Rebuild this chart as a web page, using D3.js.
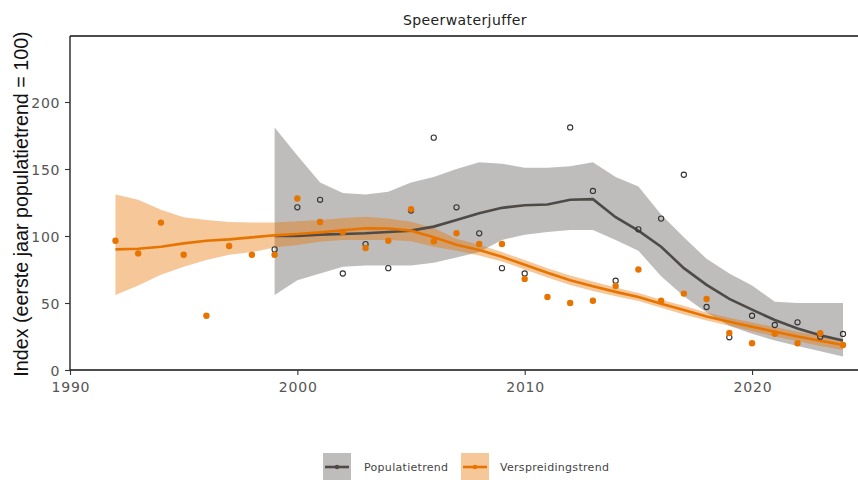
<!DOCTYPE html>
<html><head><meta charset="utf-8">
<script src="https://cdn.jsdelivr.net/npm/d3@7"></script>
<style>body{margin:0;background:#fff}svg{display:block}</style>
</head><body>
<script>
const title = "Speerwaterjuffer";
const yLabel = "Index (eerste jaar populatietrend = 100)";
const xTicks = [1990, 2000, 2010, 2020];
const yTicks = [0, 50, 100, 150, 200];

// Verspreidingstrend (orange)
const versYears = d3.range(1992, 2025);
const versPoints = [96.5,87,110,86,40.5,92.5,86,86,128,110.5,103,91,96.5,120,96,102,94,94,68,54.5,50,51.7,62.7,75,51.7,57,53,27.6,20,27,20,27.4,18.7];
const versTrend = [90,90.5,92,94.5,96.5,97.5,99,100.5,101.5,102.7,104.3,105.8,105.6,104,99,93.5,89.5,84.5,78.5,72.5,67,62.5,58.3,54.5,49.5,44.8,40,36,32.3,28.6,25,21.9,18.7];
const versUpper = [131,127,119.5,114,112,110.5,110,110,111,112,113.5,114.4,113,110.7,106,98,93.5,88,82,76,70.5,66,61.5,57.5,52.5,48,43,39,35.5,32,28.5,25.5,22.5];
const versLower = [56,63,71,77,82,86,88,91.5,93.3,95.8,97,97,97,96,92,89,85.5,81,75,69,63.5,59,55,51.5,46.5,41.5,37,33,29,25,21.5,18,15];

// Populatietrend (grey)
const popYears = d3.range(1999, 2025);
const popPoints = [90,121.4,127,72,94,76,119,173.4,121.4,102,76,72,252,181,133.6,66.6,105,113,145.7,47,24.4,40.5,33.6,35.6,24.9,26.9];
const popTrend = [100,100,101,101.5,102,103,104,107,112,117,121,123,123.5,127,127.5,114,104,92,76,63.5,53,45,37.3,31,26,22];
const popUpper = [181,160,140,132,131,133,140,144,150,155,154,151,151,152,155,144,137,116,99,83,72,63,51,50,50,50];
const popLower = [56,67,72,77,78,78,78,80,84,88,97,101,103,104.5,104.5,97,89,70,55,43,33,27,22,18,14,10];

const W = 858, H = 480;
const svg = d3.select("body").append("svg").attr("width", W).attr("height", H);
const x = d3.scaleLinear().domain([1990, 2024.66]).range([70, 858]);
const y = d3.scaleLinear().domain([0, 249.25]).range([370, 36]);

const GREY = "#4d4a47", GREYBAND = "#5f5a55", ORANGE = "#e87400";
const TICKFONT = "'DejaVu Sans', Verdana, sans-serif";
const LABELFONT = "'Liberation Sans', Arial, sans-serif";

svg.append("defs").append("clipPath").attr("id","clip")
  .append("rect").attr("x",70).attr("y",36).attr("width",788).attr("height",334);
const g = svg.append("g").attr("clip-path","url(#clip)");

const pop = popYears.map((yr,i)=>({yr, p:popPoints[i], t:popTrend[i], u:popUpper[i], l:popLower[i]}));
const vers = versYears.map((yr,i)=>({yr, p:versPoints[i], t:versTrend[i], u:versUpper[i], l:versLower[i]}));

const area = d3.area().x(d=>x(d.yr)).y0(d=>y(d.l)).y1(d=>y(d.u));
const line = d3.line().x(d=>x(d.yr)).y(d=>y(d.t));

g.append("path").datum(pop).attr("d", area).attr("fill", GREYBAND).attr("fill-opacity", 0.4);
g.append("path").datum(vers).attr("d", area).attr("fill", ORANGE).attr("fill-opacity", 0.4);
g.append("path").datum(pop).attr("d", line).attr("fill","none").attr("stroke", GREY).attr("stroke-width", 2.6);
g.append("path").datum(vers).attr("d", line).attr("fill","none").attr("stroke", ORANGE).attr("stroke-width", 2.6);

g.selectAll(".pp").data(pop).join("circle").attr("cx",d=>x(d.yr)).attr("cy",d=>y(d.p)).attr("r",2.6)
  .attr("fill","none").attr("stroke","#333").attr("stroke-width",1.1);
g.selectAll(".vp").data(vers).join("circle").attr("cx",d=>x(d.yr)).attr("cy",d=>y(d.p)).attr("r",3.2)
  .attr("fill",ORANGE);

// axes
const xAxis = svg.append("g").attr("transform","translate(0,370)")
  .call(d3.axisBottom(x).tickValues(xTicks).tickFormat(d3.format("d")).tickSize(5).tickSizeOuter(0));
const yAxis = svg.append("g").attr("transform","translate(70,0)")
  .call(d3.axisLeft(y).tickValues(yTicks).tickSize(5).tickSizeOuter(0));
[xAxis,yAxis].forEach(a=>{
  a.attr("font-family", null).attr("font-size", null);
  a.select(".domain").attr("stroke","#111").attr("stroke-width",1.3);
  a.selectAll(".tick line").attr("stroke","#333").attr("stroke-width",1.1);
  a.selectAll(".tick text").attr("fill","#555").style("font-size","14px").style("letter-spacing","0.8px").style("font-family",TICKFONT);
});
xAxis.select(".domain").attr("d","M70,0H858");
yAxis.select(".domain").attr("d","M0,370V36");
xAxis.selectAll(".tick text").attr("y",21.5).attr("dy",0).attr("dx","0.4px");
yAxis.selectAll(".tick text").attr("x",-9.7).attr("dy","0.36em");
svg.append("line").attr("x1",70).attr("x2",858).attr("y1",36).attr("y2",36).attr("stroke","#111").attr("stroke-width",1.3);

svg.append("text").attr("x",465).attr("y",25).attr("text-anchor","middle")
  .style("font-size","14px").style("letter-spacing","0.4px").style("font-family",TICKFONT).attr("fill","#222").text(title);
svg.append("text").attr("transform","translate(28,204) rotate(-90)").attr("text-anchor","middle")
  .style("font-size","19.7px").style("font-family",LABELFONT).attr("fill","#111").text(yLabel);

// legend
const legend = [{label:"Populatietrend", c:GREY, band:GREYBAND, x:323, tx:364},
                {label:"Verspreidingstrend", c:ORANGE, band:ORANGE, x:461, tx:500}];
const lg = svg.append("g");
legend.forEach(d=>{
  lg.append("rect").attr("x",d.x).attr("y",453).attr("width",28).attr("height",27).attr("fill",d.band).attr("fill-opacity",0.4);
  lg.append("line").attr("x1",d.x+2).attr("x2",d.x+26).attr("y1",467).attr("y2",467).attr("stroke",d.c).attr("stroke-width",2.6);
  lg.append("circle").attr("cx",d.x+14).attr("cy",467).attr("r",2.2).attr("fill",d.c);
  lg.append("text").attr("x",d.tx).attr("y",471).style("font-size","11px").style("letter-spacing","0.3px")
    .style("font-family",TICKFONT).attr("fill","#444").text(d.label);
});
</script>
</body></html>
